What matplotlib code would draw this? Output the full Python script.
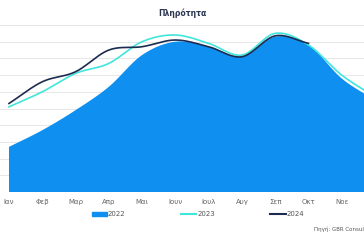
import numpy as np
import matplotlib
matplotlib.use('Agg')
import matplotlib.pyplot as plt
from matplotlib.patches import Patch
from matplotlib.lines import Line2D

months = ['Ιαν', 'Φεβ', 'Μαρ', 'Απρ', 'Μαι', 'Ιουν', 'Ιουλ', 'Αυγ', 'Σεπ', 'Οκτ', 'Νοε', 'Δεκ']
occ_2022 = [27, 37, 49, 63, 82, 90, 87, 81, 93, 88, 68, 55]
occ_2023 = [51, 60, 71, 77, 90, 94, 89, 82, 95, 88, 70, 57]
occ_2024 = [53, 66, 72, 85, 87, 91, 87, 81, 93.5, 89]

c22 = '#0f8ff0'
c23 = '#40e6dc'
c24 = '#1c2b4f'


def smooth(y, n=20):
    # cardinal spline through the points, only for drawing
    y = np.asarray(y, float)
    x = np.arange(len(y))
    m = np.gradient(y)
    xs, ys = [], []
    for i in range(len(y) - 1):
        t = np.linspace(0, 1, n, endpoint=False)
        h00 = 2*t**3 - 3*t**2 + 1
        h10 = t**3 - 2*t**2 + t
        h01 = -2*t**3 + 3*t**2
        h11 = t**3 - t**2
        xs.append(x[i] + t)
        ys.append(h00*y[i] + h10*m[i] + h01*y[i+1] + h11*m[i+1])
    xs.append([x[-1]])
    ys.append([y[-1]])
    return np.concatenate(xs), np.concatenate(ys)


fig = plt.figure(figsize=(3.64, 2.4), dpi=100)
ax = fig.add_axes([-1/364, 48/240, 386/364, 167/240])

x, y = smooth(occ_2022)
ax.fill_between(x, 0, y, color=c22, lw=0, zorder=2)
x, y = smooth(occ_2023)
ax.plot(x, y, color=c23, lw=1.2, zorder=3)
x, y = smooth(occ_2024)
ax.plot(x, y, color=c24, lw=1.2, zorder=4)

ax.set_xlim(-0.3, 11.3)
ax.set_ylim(0, 100)
ax.set_yticks(np.arange(0, 101, 10))
ax.set_yticklabels([])
ax.grid(axis='y', color='#e3e3e3', lw=0.6, zorder=0)
ax.set_axisbelow(True)
ax.set_xticks(range(12))
ax.set_xticklabels(months, fontsize=5, color='#666666')
# Dec label lies outside the visible frame in the source chart
ax.get_xticklabels()[-1].set_visible(False)
ax.tick_params(length=0, pad=5)
for s in ax.spines.values():
    s.set_visible(False)

fig.text(182/364, 1 - 13/240, 'Πληρότητα', ha='center', va='center',
         fontsize=5.5, fontweight='bold', color='#2b3550')

handles = [Patch(color=c22), Line2D([], [], color=c23, lw=1.5),
           Line2D([], [], color=c24, lw=1.5)]
fig.legend(handles, ['2022', '2023', '2024'], loc='center', ncol=3,
           bbox_to_anchor=(198/364, 1 - 214/240), frameon=False,
           fontsize=5, labelcolor='#555555', handlelength=2.2,
           handleheight=0.5, handletextpad=0.1, columnspacing=8)

fig.text(314/364, 1 - 229/240, 'Πηγή: GBR Consulting', ha='left', va='center',
         fontsize=4, color='#555555')

fig.savefig('out.png', dpi=100)
